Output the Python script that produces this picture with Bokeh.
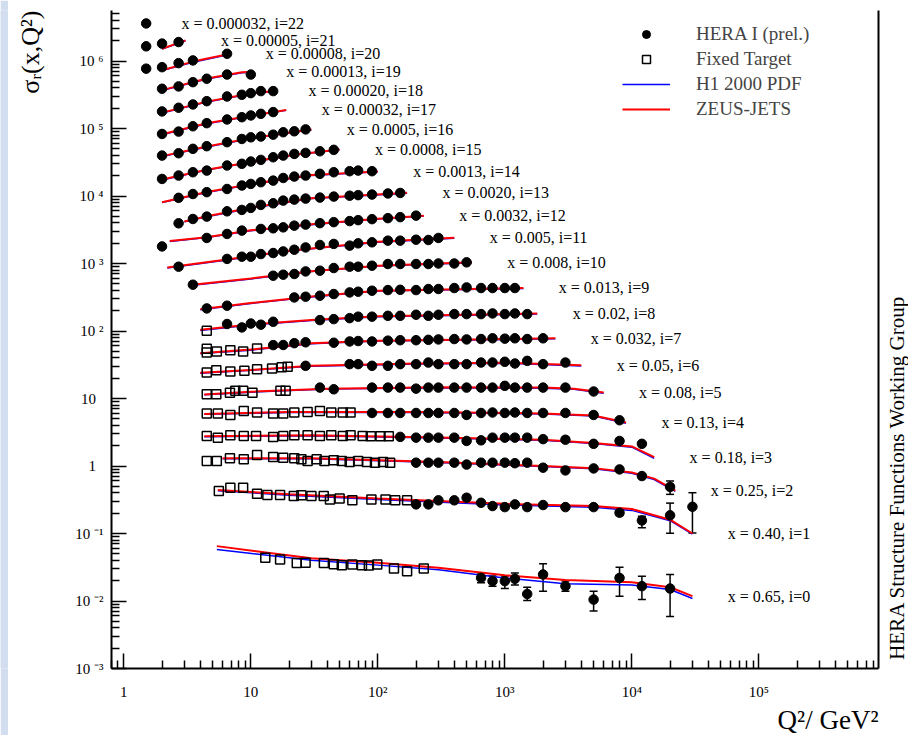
import math
from bokeh.plotting import figure
from bokeh.layouts import row
from bokeh.models import (FixedTicker, LogAxis, Title, Label, Legend, LegendItem,
                          ColumnDataSource, Whisker, TeeHead)
from bokeh.core.properties import value
from bokeh.embed import file_html
from bokeh.resources import INLINE

# ---------------- data ----------------
x_bj = ["0.65", "0.40", "0.25", "0.18", "0.13", "0.08", "0.05", "0.032", "0.02",
        "0.013", "0.008", "0.005", "0.0032", "0.0020", "0.0013", "0.0008", "0.0005",
        "0.00032", "0.00020", "0.00013", "0.00008", "0.00005", "0.000032"]

# HERA I (prel.) points: (Q2, sigma_r scaled)
hera_22 = [(1.5, 3.6e6)]
hera_21 = [(1.5, 1.65e6), (2, 1.81e6), (2.7, 1.91e6)]
hera_20 = [(1.5, 7.7e5), (2, 8.1e5), (2.7, 9.3e5), (3.5, 1.02e6), (6.5, 1.28e6)]
hera_19 = [(2, 3.88e5), (2.7, 4.2e5), (3.5, 4.86e5), (4.5, 5.46e5), (6.5, 6.3e5), (10, 6.3e5)]
hera_18 = [(2, 1.79e5), (2.7, 2.03e5), (3.5, 2.27e5), (4.5, 2.54e5), (6.5, 2.98e5), (8.5, 3.16e5),
           (10, 3.34e5), (12, 3.58e5), (15, 3.58e5)]
hera_17 = [(2, 8.3e4), (2.7, 9.0e4), (3.5, 1.08e5), (4.5, 1.2e5), (6.5, 1.36e5), (8.5, 1.47e5),
           (10, 1.56e5), (12, 1.65e5), (15, 1.75e5)]
hera_16 = [(2, 3.97e4), (2.7, 4.3e4), (3.5, 5.0e4), (4.5, 5.47e4), (6.5, 6.27e4), (8.5, 7.0e4),
           (10, 7.4e4), (12, 7.6e4), (15, 8.1e4), (18, 8.8e4), (22, 9.1e4), (27, 9.7e4)]
hera_15 = [(2, 1.79e4), (2.7, 2.01e4), (3.5, 2.25e4), (4.5, 2.38e4), (6.5, 2.83e4), (8.5, 3.0e4),
           (10, 3.24e4), (12, 3.43e4), (15, 3.75e4), (18, 3.97e4), (22, 4.2e4), (27, 4.35e4),
           (35, 4.6e4), (45, 4.83e4)]
hera_14 = [(2.7, 9.4e3), (3.5, 1.07e4), (4.5, 1.14e4), (6.5, 1.27e4), (8.5, 1.43e4), (10, 1.51e4),
           (12, 1.6e4), (15, 1.69e4), (18, 1.85e4), (22, 1.94e4), (27, 2.01e4), (35, 2.13e4),
           (45, 2.25e4), (60, 2.33e4), (70, 2.38e4), (90, 2.33e4)]
hera_13 = [(2.7, 3.94e3), (3.5, 4.57e3), (4.5, 4.95e3), (6.5, 5.93e3), (8.5, 6.22e3), (10, 6.66e3),
           (12, 7.38e3), (15, 7.8e3), (18, 8.55e3), (22, 8.84e3), (27, 9.15e3), (35, 9.47e3),
           (45, 9.8e3), (60, 1.01e4), (70, 1.03e4), (90, 1.05e4), (120, 1.09e4), (150, 1.11e4)]
hera_12 = [(2, 1.79e3), (4.5, 2.39e3), (6.5, 2.74e3), (8.5, 3.07e3), (12, 3.25e3), (15, 3.32e3),
           (18, 3.43e3), (22, 3.64e3), (27, 3.77e3), (35, 3.96e3), (45, 4.1e3), (60, 4.25e3),
           (70, 4.39e3), (90, 4.54e3), (120, 4.7e3), (150, 4.86e3), (200, 5.12e3)]
hera_11 = [(2.7, 897), (6.5, 1170), (8.5, 1260), (10, 1260), (12, 1380), (15, 1430), (18, 1510),
           (22, 1600), (27, 1730), (35, 1880), (45, 1950), (60, 1840), (70, 1990), (90, 2060),
           (120, 2180), (150, 2180), (200, 2250), (250, 2230), (300, 2390)]
hera_10 = [(3.5, 485), (15, 659), (18, 682), (22, 699), (27, 763), (35, 782), (45, 857), (60, 897),
           (70, 897), (90, 927), (120, 983), (150, 983), (200, 983), (250, 983), (300, 1000),
           (400, 1000), (500, 1040)]
hera_9 = [(4.5, 216), (6.5, 237), (22, 314), (27, 322), (35, 333), (45, 353), (60, 373), (70, 382),
          (90, 395), (120, 404), (150, 408), (200, 404), (250, 419), (300, 419), (400, 433),
          (500, 442), (650, 433), (800, 433), (1000, 433), (1200, 433)]
hera_8 = [(6.5, 127), (8.5, 113), (10, 129), (12, 124), (15, 137), (35, 145), (45, 150), (60, 155),
          (70, 163), (90, 163), (120, 168), (150, 168), (200, 174), (250, 168), (300, 174),
          (400, 178), (500, 178), (650, 178), (800, 182), (1000, 178), (1200, 182), (1500, 178)]
hera_7 = [(15, 61.8), (18, 62), (22, 66), (27, 68), (45, 67), (60, 70), (70, 71), (90, 70),
          (120, 72), (150, 73), (200, 73), (250, 74), (300, 75), (400, 76), (500, 75), (650, 76),
          (800, 78), (1000, 77), (1200, 78), (1500, 76), (2000, 78)]
hera_6 = [(27, 30.5), (60, 32.3), (70, 32.3), (90, 30.5), (120, 30.5), (150, 32.3), (200, 32.3),
          (250, 34.1), (300, 32.3), (400, 32.3), (500, 32.3), (650, 34.1), (800, 34.1), (1000, 35),
          (1200, 33), (1500, 36.1), (2000, 32.3), (3000, 34.1)]
hera_5 = [(35, 14.5), (45, 13.7), (90, 14.5), (120, 14.5), (150, 14.5), (200, 14.0), (250, 14.5),
          (300, 14.5), (400, 14.5), (500, 14.5), (650, 14.5), (800, 14.5), (1000, 15.4),
          (1200, 14.5), (1500, 14.5), (2000, 14.5), (3000, 14.5), (5000, 12.7)]
hera_4 = [(90, 6.1), (120, 6.1), (150, 6.1), (200, 6.1), (250, 6.1), (300, 6.1), (400, 6.1),
          (500, 5.7), (650, 6.1), (800, 6.2), (1000, 6.1), (1200, 6.2), (1500, 6.1), (2000, 6.1),
          (3000, 6.1), (5000, 5.7), (8000, 4.76)]
hera_3 = [(150, 2.7), (200, 2.63), (250, 2.63), (300, 2.63), (400, 2.63), (500, 2.35), (650, 2.4),
          (800, 2.63), (1000, 2.63), (1200, 2.63), (1500, 2.63), (2000, 2.5), (3000, 2.45),
          (5000, 2.13), (8000, 2.35), (12000, 2.13)]
hera_2 = [(200, 1.12), (250, 1.12), (300, 1.12), (400, 1.12), (500, 1.05), (650, 1.12), (800, 1.12),
          (1000, 1.12), (1200, 1.1), (1500, 1.12), (2000, 0.944), (3000, 0.86), (5000, 0.92),
          (8000, 0.89), (12000, 0.71), (20000, 0.49)]
hera_1 = [(200, 0.27), (250, 0.27), (300, 0.31), (400, 0.31), (500, 0.339), (650, 0.285),
          (800, 0.255), (1000, 0.246), (1200, 0.27), (1500, 0.246), (2000, 0.264), (3000, 0.246),
          (5000, 0.246), (8000, 0.203), (12000, 0.156), (20000, 0.186), (30000, 0.249)]
hera_0 = [(650, 0.022), (800, 0.0197), (1000, 0.0197), (1200, 0.0213), (1500, 0.0127),
          (2000, 0.0247), (3000, 0.0166), (5000, 0.0105), (8000, 0.022), (12000, 0.0166),
          (20000, 0.0153)]

# error bars (Q2, low, high)
err_2 = [(12000, 0.66, 0.77), (20000, 0.38, 0.6)]
err_1 = [(8000, 0.185, 0.22), (12000, 0.122, 0.18), (20000, 0.101, 0.282), (30000, 0.102, 0.402)]
err_0 = [(650, 0.0186, 0.026), (800, 0.0166, 0.0234), (1000, 0.0153, 0.0234), (1200, 0.0172, 0.026),
         (1500, 0.0102, 0.016), (2000, 0.014, 0.0355), (3000, 0.014, 0.0197), (5000, 0.0071, 0.014),
         (8000, 0.0118, 0.0316), (12000, 0.0105, 0.0233), (20000, 0.0059, 0.0247)]

# Fixed target points
ft_8 = [(4.5, 101)]
ft_7 = [(4.5, 48), (4.5, 54.5), (5.4, 49.6), (6.9, 52), (8.7, 49.6), (11.2, 55)]
ft_6 = [(4.5, 24.2), (5.35, 26.3), (6.9, 25.1), (8.9, 25.7), (11.2, 27.2), (14.7, 27.8),
        (17.5, 29), (19.5, 29.5)]
ft_5 = [(4.5, 11.6), (5.35, 11.6), (6.85, 12.2), (7.55, 13.0), (8.7, 13.0), (10.3, 12.2),
        (17.1, 13.0), (18.8, 13.0)]
ft_4 = [(4.5, 5.97), (5.5, 5.97), (6.9, 5.71), (8.8, 6.55), (11.2, 6.18), (15, 5.97), (18, 5.97),
        (22, 6.18), (28, 6.3), (35, 6.55), (43, 6.18), (53, 6.18), (61, 6.18)]
ft_3 = [(4.5, 2.79), (5.5, 2.63), (6.9, 2.85), (8.8, 2.79), (11, 2.79), (15, 2.7), (18, 2.79),
        (22, 2.85), (28, 2.85), (35, 2.79), (43, 2.85), (53, 2.79), (61, 2.85), (76, 2.79),
        (88, 2.75), (105, 2.75), (122, 2.75)]
ft_2 = [(4.5, 1.19), (5.4, 1.19), (6.85, 1.30), (8.8, 1.26), (11.2, 1.46), (15, 1.36), (18, 1.33),
        (22, 1.30), (25, 1.26), (28, 1.19), (33, 1.26), (38, 1.19), (45, 1.22), (52, 1.19),
        (60, 1.15), (70, 1.19), (82, 1.15), (95, 1.12), (110, 1.15), (125, 1.12)]
ft_1 = [(5.6, 0.425), (6.9, 0.476), (8.7, 0.476), (11.2, 0.388), (13.5, 0.371), (17, 0.371),
        (21.8, 0.359), (25, 0.37), (30, 0.36), (37.5, 0.359), (42, 0.32), (50, 0.33), (63, 0.31),
        (89, 0.32), (115, 0.32), (137, 0.31), (170, 0.31)]
ft_0 = [(13, 0.0436), (17, 0.0413), (23, 0.0367), (27, 0.037), (37.6, 0.0367), (45, 0.035),
        (52, 0.034), (63, 0.0348), (75, 0.034), (85, 0.0335), (99, 0.0348), (134, 0.0303),
        (170, 0.0277), (230, 0.0303)]

# ZEUS-JETS curves
zeus_22 = []
zeus_21 = [(2, 1.52e6), (3.06, 2.02e6)]
zeus_20 = [(2, 7.3e5), (3.5, 9.8e5), (6.9, 1.28e6)]
zeus_19 = [(2, 3.7e5), (4.5, 5.5e5), (8.5, 6.8e5), (10, 6.9e5)]
zeus_18 = [(2, 1.72e5), (4.5, 2.5e5), (10, 3.3e5), (15, 3.6e5)]
zeus_17 = [(2, 8.2e4), (4.5, 1.2e5), (10, 1.55e5), (19, 1.88e5)]
zeus_16 = [(2, 3.9e4), (4.5, 5.4e4), (10, 7.2e4), (30, 9.7e4)]
zeus_15 = [(2, 1.75e4), (4.5, 2.45e4), (10, 3.2e4), (22, 4.1e4), (50, 4.9e4)]
zeus_14 = [(2, 8.1e3), (4.5, 1.15e4), (10, 1.5e4), (30, 2.05e4), (100, 2.3e4)]
zeus_13 = [(3, 4.2e3), (4.5, 5.0e3), (10, 6.7e3), (30, 9.3e3), (170, 1.12e4)]
zeus_12 = [(2.3, 2.15e3), (4.5, 2.45e3), (10, 3.1e3), (30, 3.8e3), (100, 4.6e3), (230, 5.1e3)]
zeus_11 = [(2.2, 870), (6.5, 1150), (20, 1550), (100, 2100), (400, 2400)]
zeus_10 = [(3.2, 475), (10, 600), (30, 770), (100, 930), (550, 1040)]
zeus_9 = [(4, 210), (10, 260), (30, 325), (100, 395), (1400, 435)]
zeus_8 = [(4, 104), (10, 125), (30, 145), (100, 165), (1800, 182)]
zeus_7 = [(4, 47), (10, 53), (30, 66), (100, 72), (2500, 78)]
zeus_6 = [(4, 24), (10, 26.5), (30, 30.5), (200, 33), (1000, 34), (4000, 31)]
zeus_5 = [(4.3, 11.5), (10, 12.6), (40, 14), (300, 14.7), (2000, 14.5), (3500, 14), (6000, 12.3)]
zeus_4 = [(4.3, 5.9), (20, 6.3), (200, 6.3), (2000, 6.0), (5000, 5.6), (9000, 4.4)]
zeus_3 = [(4.3, 2.75), (30, 2.85), (300, 2.65), (2000, 2.45), (5000, 2.2), (10000, 1.95), (15000, 1.35)]
zeus_2 = [(6, 1.3), (30, 1.3), (300, 1.15), (2000, 1.0), (5000, 0.93), (10000, 0.8), (15000, 0.65),
          (22000, 0.43)]
zeus_1 = [(5.5, 0.44), (20, 0.38), (100, 0.33), (1000, 0.275), (5000, 0.255), (10000, 0.23),
          (20000, 0.16), (30000, 0.10)]
zeus_0 = [(5.4, 0.065), (30, 0.043), (100, 0.037), (300, 0.031), (1000, 0.024), (3000, 0.0205),
          (10000, 0.019), (20000, 0.016), (30000, 0.0118)]

# H1 2000 PDF curves
h1_22 = []
h1_21 = [(2, 1.5e6), (3.06, 2.0e6)]
h1_20 = [(2, 7.2e5), (3.5, 9.6e5), (6.9, 1.26e6)]
h1_19 = [(2, 3.65e5), (4.5, 5.4e5), (8.5, 6.7e5), (10, 6.8e5)]
h1_18 = [(2, 1.7e5), (4.5, 2.47e5), (10, 3.27e5), (15, 3.55e5)]
h1_17 = [(2, 8.1e4), (4.5, 1.18e5), (10, 1.53e5), (19, 1.86e5)]
h1_16 = [(2, 3.85e4), (4.5, 5.3e4), (10, 7.1e4), (30, 9.6e4)]
h1_15 = [(2, 1.73e4), (4.5, 2.42e4), (10, 3.15e4), (22, 4.05e4), (50, 4.85e4)]
h1_14 = [(2, 8.0e3), (4.5, 1.13e4), (10, 1.48e4), (30, 2.02e4), (100, 2.28e4)]
h1_13 = [(3, 4.15e3), (4.5, 4.93e3), (10, 6.6e3), (30, 9.2e3), (170, 1.1e4)]
h1_12 = [(2.3, 2.12e3), (4.5, 2.42e3), (10, 3.05e3), (30, 3.75e3), (100, 4.55e3), (230, 5.05e3)]
h1_11 = [(2.2, 860), (6.5, 1130), (20, 1530), (100, 2070), (400, 2370)]
h1_10 = [(3.2, 468), (10, 590), (30, 760), (100, 915), (550, 1025)]
h1_9 = [(4, 207), (10, 256), (30, 320), (100, 390), (1400, 428)]
h1_8 = [(4, 102), (10, 123), (30, 143), (100, 162), (1800, 178)]
h1_7 = [(4, 46.5), (10, 52), (30, 65), (100, 71), (2500, 76.5)]
h1_6 = [(4, 23.7), (10, 26.2), (30, 30), (200, 32.4), (1000, 33.3), (4000, 30.3)]
h1_5 = [(4.3, 11.4), (10, 12.4), (40, 13.8), (300, 14.4), (2000, 14.2), (3500, 13.7), (6000, 12.0)]
h1_4 = [(4.3, 5.85), (20, 6.2), (200, 6.2), (2000, 5.9), (5000, 5.5), (9000, 4.3)]
h1_3 = [(4.3, 2.72), (30, 2.8), (300, 2.6), (2000, 2.4), (5000, 2.15), (10000, 1.9), (15000, 1.3)]
h1_2 = [(6, 1.28), (30, 1.28), (300, 1.13), (2000, 0.98), (5000, 0.91), (10000, 0.78), (15000, 0.63),
        (22000, 0.42)]
h1_1 = [(5.5, 0.43), (20, 0.37), (100, 0.32), (1000, 0.265), (5000, 0.245), (10000, 0.22),
        (20000, 0.155), (30000, 0.098)]
h1_0 = [(5.4, 0.058), (30, 0.040), (100, 0.034), (300, 0.029), (1000, 0.022), (3000, 0.018),
        (10000, 0.0172), (20000, 0.0148), (30000, 0.0109)]

y_tick_labels = {1e-3: "10 ⁻³", 1e-2: "10 ⁻²", 0.1: "10 ⁻¹", 1: "1\u2002", 10: "10\u2002",
                 100: "10 ²", 1e3: "10 ³", 1e4: "10 ⁴", 1e5: "10 ⁵", 1e6: "10 ⁶"}
x_tick_labels = {1: "1", 10: "10", 100: "10²", 1e3: "10³", 1e4: "10⁴", 1e5: "10⁵"}
side_text = "HERA Structure Functions Working Group"

# ---------------- assemble ----------------
G = globals()
NB = len(x_bj)
hera = [G["hera_%d" % i] for i in range(NB)]
zeus = [G["zeus_%d" % i] for i in range(NB)]
h1 = [G["h1_%d" % i] for i in range(NB)]
ft = [G.get("ft_%d" % i, []) for i in range(NB)]
errs = [G.get("err_%d" % i, []) for i in range(NB)]

FONT = "Liberation Serif"
H = 735
STRIP_W = 8
P_W = 876
SIDE_W = 908 - STRIP_W - P_W
BORDER_TOP, BORDER_BOTTOM = 10, 67

p = figure(width=P_W, height=H, x_axis_type="log", y_axis_type="log",
           x_range=(0.8, 8.75e5), y_range=(1e-3, 5.6e6),
           output_backend="svg", toolbar_location=None,
           min_border_left=103, min_border_right=6, min_border_top=BORDER_TOP,
           min_border_bottom=BORDER_BOTTOM)
p.grid.visible = False
p.outline_line_color = None
p.background_fill_color = "white"
p.border_fill_color = "white"

for ax in (p.xaxis[0], p.yaxis[0]):
    ax.axis_line_width = 2
    ax.major_tick_in = 15
    ax.major_tick_out = 0
    ax.minor_tick_in = 8
    ax.minor_tick_out = 0
    ax.major_tick_line_width = 1.5
    ax.minor_tick_line_width = 1.5
    ax.major_label_text_font = FONT
    ax.major_label_text_font_size = "15px"
    ax.major_label_text_color = "black"

p.yaxis[0].ticker = FixedTicker(ticks=[10.0 ** k for k in range(-3, 7)],
                                minor_ticks=[m * 10.0 ** k for k in range(-3, 7) for m in range(2, 10)])
p.xaxis[0].ticker = FixedTicker(ticks=[10.0 ** k for k in range(0, 6)],
                                minor_ticks=[m * 10.0 ** k for k in range(-1, 6) for m in range(2, 10)])
p.yaxis[0].major_label_overrides = y_tick_labels
p.xaxis[0].major_label_overrides = x_tick_labels
p.yaxis[0].major_label_standoff = 8
p.xaxis[0].major_label_standoff = 15
# spacer between the tick labels and the rotated title on the left
p.yaxis[0].axis_label = "\u00a0"
p.yaxis[0].axis_label_text_font_size = "2px"
p.yaxis[0].axis_label_standoff = 20

# right frame line (no ticks, no labels)
ra = LogAxis(ticker=FixedTicker(ticks=[]), major_label_standoff=0,
             major_label_text_font_size="1px",
             axis_line_width=2, major_tick_in=0, major_tick_out=0, minor_tick_in=0, minor_tick_out=0,
             major_tick_line_color=None, minor_tick_line_color=None)
p.add_layout(ra, "right")

# curves
hx = [[q for q, _ in c] for c in h1 if c]
hy = [[v for _, v in c] for c in h1 if c]
zx = [[q for q, _ in c] for c in zeus if c]
zy = [[v for _, v in c] for c in zeus if c]
r_h1 = p.multi_line(hx, hy, line_color="#0000ff", line_width=1.5)
r_zeus = p.multi_line(zx, zy, line_color="#ff0000", line_width=2)

# fixed target
fq = [q for b in ft for q, _ in b]
fv = [v for b in ft for _, v in b]
r_ft = p.scatter(fq, fv, marker="square", size=9, fill_color=None, line_color="black", line_width=1.5)

# HERA
hq = [q for b in hera for q, _ in b]
hv = [v for b in hera for _, v in b]
r_hera = p.scatter(hq, hv, marker="circle", size=9.5, fill_color="black", line_color="black")

# error bars
eq = [q for b in errs for q, _, _ in b]
elo = [lo for b in errs for _, lo, _ in b]
ehi = [hi for b in errs for _, _, hi in b]
esrc = ColumnDataSource(dict(q=eq, lo=elo, hi=ehi))
wk = Whisker(source=esrc, base="q", lower="lo", upper="hi", dimension="height",
             line_color="black", line_width=1.5,
             upper_head=TeeHead(size=8, line_width=1.5, line_color="black"),
             lower_head=TeeHead(size=8, line_width=1.5, line_color="black"))
p.add_layout(wk)

# bin labels
lab_x, lab_y, lab_t = [], [], []
for i in range(NB):
    if zeus[i]:
        endq, endv = zeus[i][-1]
    else:
        endq, endv = hera[i][-1]
    lab_x.append(endq * 1.9)
    lab_y.append(endv)
    lab_t.append("x = %s, i=%d" % (x_bj[i], i))
p.text(lab_x, lab_y, text=lab_t, text_font=value(FONT), text_font_size=value("16px"),
       text_baseline="middle", text_align="left", text_color="black")

# legend
legend = Legend(items=[LegendItem(label="HERA I (prel.)", renderers=[r_hera]),
                       LegendItem(label="Fixed Target", renderers=[r_ft]),
                       LegendItem(label="H1 2000 PDF", renderers=[r_h1]),
                       LegendItem(label="ZEUS-JETS", renderers=[r_zeus])],
                location=(511, 548), label_text_font=FONT, label_text_font_size="19px",
                glyph_width=48, glyph_height=20, label_height=20, label_standoff=26,
                spacing=3, padding=0, margin=0, border_line_color=None,
                background_fill_alpha=0)
p.add_layout(legend)

# axis titles
p.add_layout(Title(text="Q²/ GeV²", align="right", text_font=FONT, text_font_size="27px",
                   text_font_style="normal", text_color="black", standoff=0), "below")
p.add_layout(Title(text="σᵣ(x,Q²)", align="right", text_font=FONT, text_font_size="26px",
                   text_font_style="normal", text_color="black", standoff=6), "left")

# light blue strip at the far left of the page
strip = figure(width=STRIP_W, height=H, output_backend="svg", toolbar_location=None,
               x_axis_location=None, y_axis_location=None, min_border=0,
               outline_line_color=None, background_fill_color="#d2def0",
               border_fill_color="#d2def0")
strip.grid.visible = False

# narrow panel on the right carrying the vertical group name
# (its frame is aligned with the main frame by the row layout)
side = figure(width=SIDE_W, height=H, output_backend="svg", toolbar_location=None,
              x_axis_location=None, y_axis_location=None, min_border=0,
              outline_line_color=None, background_fill_color="white", border_fill_color="white")
side.grid.visible = False
frame_h = H - BORDER_TOP - BORDER_BOTTOM
side.add_layout(Label(x=SIDE_W - 12, y=frame_h - (477 - BORDER_TOP), x_units="screen", y_units="screen",
                      text=side_text, angle=math.pi / 2, text_align="center",
                      text_baseline="middle", text_font=FONT, text_font_size="21px",
                      text_color="black"))

page = row(strip, p, side, spacing=0)
open("out.html", "w").write(file_html(page, INLINE))
